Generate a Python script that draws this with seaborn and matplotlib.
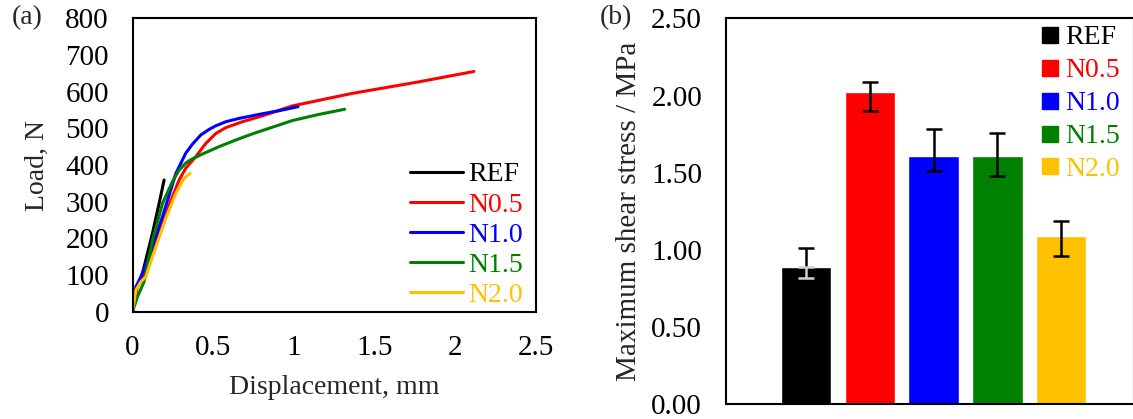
import numpy as np
import pandas as pd
import matplotlib
matplotlib.use("Agg")
import matplotlib.pyplot as plt
import seaborn as sns
from matplotlib.lines import Line2D

sns.set_theme(style="white")
plt.rcParams['font.family'] = ['Liberation Serif', 'DejaVu Serif']

# ---------------- data ----------------
series_names = ["REF", "N0.5", "N1.0", "N1.5", "N2.0"]
series_colors = ["#000000", "#FF0000", "#0000FF", "#008000", "#FFC000"]

ref_disp = [0, 0.021, 0.062, 0.124, 0.165, 0.196]
ref_load = [0, 59, 105, 214, 295, 359]

n05_disp = [0, 0.031, 0.062, 0.124, 0.207, 0.289, 0.33, 0.393, 0.455, 0.517, 0.579, 0.682, 0.806, 0.99, 1.36, 1.78, 2.118]
n05_load = [0, 68, 95, 159, 268, 359, 391, 423, 459, 486, 502, 518, 534, 561, 595, 627, 655]

n10_disp = [0, 0.021, 0.052, 0.103, 0.186, 0.269, 0.30, 0.33, 0.372, 0.424, 0.475, 0.517, 0.579, 0.661, 0.785, 0.909, 1.027]
n10_load = [0, 68, 95, 150, 259, 377, 405, 432, 457, 482, 497, 507, 518, 527, 538, 548, 559]

n15_disp = [0, 0.031, 0.072, 0.124, 0.186, 0.248, 0.289, 0.33, 0.36, 0.434, 0.537, 0.64, 0.744, 0.868, 0.99, 1.157, 1.316]
n15_load = [0, 41, 82, 195, 295, 355, 386, 405, 414, 430, 450, 468, 485, 503, 521, 538, 552]

n20_disp = [0, 0.021, 0.052, 0.083, 0.124, 0.207, 0.269, 0.32, 0.357]
n20_load = [0, 59, 82, 95, 150, 255, 323, 364, 377]

stress_mean = [0.89, 2.02, 1.61, 1.61, 1.09]
stress_err_low = [0.07, 0.12, 0.10, 0.13, 0.13]
stress_err_high = [0.12, 0.07, 0.17, 0.15, 0.10]

x_ticks = [0, 0.5, 1, 1.5, 2, 2.5]
x_ticklabels = ["0", "0.5", "1", "1.5", "2", "2.5"]
y1_ticks = [0, 100, 200, 300, 400, 500, 600, 700, 800]
y2_ticks = [0.0, 0.5, 1.0, 1.5, 2.0, 2.5]
y2_ticklabels = ["0.00", "0.50", "1.00", "1.50", "2.00", "2.50"]

# ---------------- figure ----------------
W, H = 1133, 419
fig = plt.figure(figsize=(W / 100, H / 100), dpi=100)
FS = 20
TFS = 21

def ax_rect(l, r, t, b):
    return [l / W, 1 - b / H, (r - l) / W, (b - t) / H]

ax1 = fig.add_axes(ax_rect(132.5, 535.5, 18.3, 311.7))
ax2 = fig.add_axes(ax_rect(725.7, 1134, 18.3, 404.3))

# ---- (a) load-displacement ----
disp_all = [ref_disp, n05_disp, n10_disp, n15_disp, n20_disp]
load_all = [ref_load, n05_load, n10_load, n15_load, n20_load]
frames = []
for name, d, l in zip(series_names, disp_all, load_all):
    frames.append(pd.DataFrame({"disp": d, "load": l, "series": name}))
df = pd.concat(frames, ignore_index=True)

sns.lineplot(data=df, x="disp", y="load", hue="series", hue_order=series_names,
             palette=series_colors, sort=False, estimator=None, units="series",
             linewidth=2.2, ax=ax1, legend=False)
for ln in ax1.get_lines():
    ln.set_solid_joinstyle("round")
    ln.set_solid_capstyle("round")

ax1.set_xlim(0, 2.5)
ax1.set_ylim(0, 800)
ax1.set_xticks(x_ticks)
ax1.set_xticklabels(x_ticklabels)
ax1.set_yticks(y1_ticks)
ax1.tick_params(axis="both", direction="in", length=6, width=1.2, pad=17,
                labelsize=TFS, colors="black")
ax1.tick_params(axis="both", which="both", top=False, right=False)
ax1.set_xlabel("Displacement, mm", fontsize=FS)
ax1.set_ylabel("Load, N", fontsize=FS)
ax1.xaxis.set_label_coords(0.5, -0.215)
ax1.yaxis.set_label_coords(-0.205, 0.5)
for s in ax1.spines.values():
    s.set_color("black")
    s.set_linewidth(1.5)

handles1 = [Line2D([0], [0], color=c, lw=2.2) for c in series_colors]
leg1 = ax1.legend(handles1, series_names, loc="upper left",
                  bbox_to_anchor=(410 / W, 1 - 162 / H), bbox_transform=fig.transFigure,
                  frameon=False, fontsize=FS, handlelength=1.9, handletextpad=0.2,
                  labelspacing=0.17, borderpad=0, borderaxespad=0, labelcolor=series_colors)

# ---- (b) shear stress bars ----
bdf = pd.DataFrame({"cat": series_names, "val": stress_mean})
sns.barplot(data=bdf, x="cat", y="val", hue="cat", order=series_names, hue_order=series_names,
            palette=series_colors, width=0.79, saturation=1, ax=ax2, legend=False)
xs = np.arange(len(series_names))
ax2.errorbar(xs, stress_mean, yerr=[stress_err_low, stress_err_high], fmt="none",
             ecolor="black", elinewidth=1.8, capsize=5.5, capthick=1.8, zorder=5)
# lower part of REF error bar appears light over the black bar
ax2.errorbar([xs[0]], [stress_mean[0]], yerr=[[stress_err_low[0]], [0]], fmt="none",
             ecolor="#d0d0d0", elinewidth=1.8, capsize=5.5, capthick=1.8, zorder=6)

ax2.set_xlim(-1.26, 5.14)
ax2.set_ylim(0, 2.5)
ax2.set_yticks(y2_ticks)
ax2.set_yticklabels(y2_ticklabels)
ax2.set_xticks([])
ax2.set_xlabel("")
ax2.set_ylabel("Maximum shear stress / MPa", fontsize=FS + 1)
ax2.yaxis.set_label_coords(-0.205, 0.5)
ax2.tick_params(axis="y", direction="in", length=6, width=1.2, pad=17,
                labelsize=TFS, colors="black", right=False)
for s in ax2.spines.values():
    s.set_color("black")
    s.set_linewidth(1.5)

handles2 = [Line2D([0], [0], color=c, marker="s", markersize=11, lw=0) for c in series_colors]
leg2 = ax2.legend(handles2, series_names, loc="upper left",
                  bbox_to_anchor=(1040 / W, 1 - 25 / H), bbox_transform=fig.transFigure,
                  frameon=False, fontsize=FS, handlelength=0.7, handletextpad=0.2,
                  labelspacing=0.27, borderpad=0, borderaxespad=0, labelcolor=series_colors)

fig.text(12 / W, 1 - 18 / H, "(a)", fontsize=FS, ha="left", va="center")
fig.text(600 / W, 1 - 18 / H, "(b)", fontsize=FS, ha="left", va="center")

fig.savefig("out.png", dpi=100)
